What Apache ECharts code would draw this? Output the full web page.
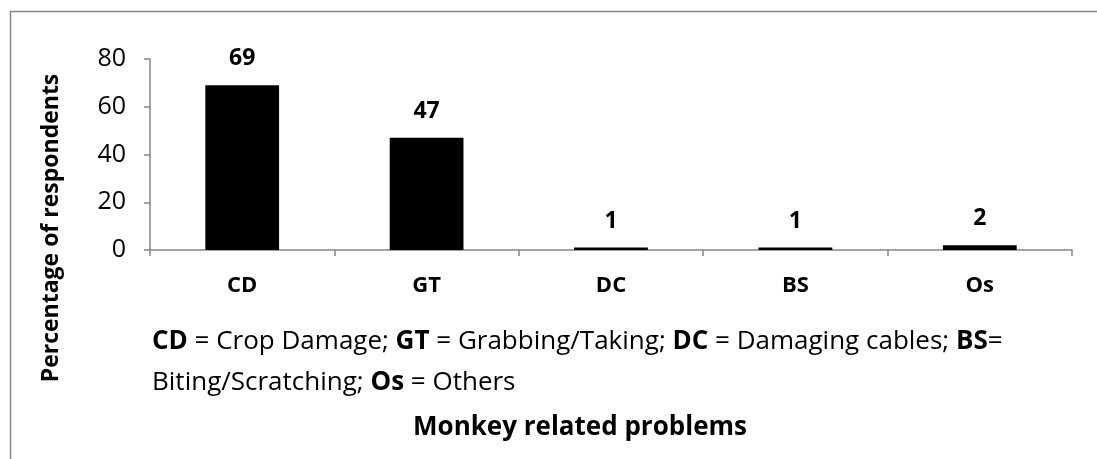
<!DOCTYPE html>
<html>
<head>
<meta charset="utf-8">
<style>
  html, body { margin: 0; padding: 0; background: #fff; }
  #chart { width: 1097px; height: 459px; }
</style>
<script src="https://cdn.jsdelivr.net/npm/echarts@6/dist/echarts.min.js"></script>
</head>
<body>
<div id="chart"></div>
<script>
// Monkey related problems reported by respondents (%)
const categories = ['CD', 'GT', 'DC', 'BS', 'Os'];
const percentages = [69, 47, 1, 1, 2];
const yTicks = [0, 20, 40, 60, 80];

const FONT = 'Open Sans';
const AXIS_GRAY = '#868686';

const chart = echarts.init(document.getElementById('chart'), null, { renderer: 'canvas' });

chart.setOption({
  backgroundColor: '#fff',
  animation: false,
  grid: { left: 150, right: 25, top: 59, bottom: 209 },
  xAxis: {
    type: 'category',
    data: categories,
    axisLine: { lineStyle: { color: AXIS_GRAY, width: 1.5 } },
    axisTick: { show: true, length: 6, alignWithLabel: false, lineStyle: { color: AXIS_GRAY, width: 1.5 } },
    axisLabel: { fontFamily: FONT, fontWeight: 'bold', fontSize: 22, color: '#000', margin: 25 }
  },
  yAxis: {
    type: 'value',
    min: yTicks[0],
    max: yTicks[yTicks.length - 1],
    interval: yTicks[1] - yTicks[0],
    axisLine: { show: true, lineStyle: { color: AXIS_GRAY, width: 1.5 } },
    axisTick: { show: true, length: 6, lineStyle: { color: AXIS_GRAY, width: 1.5 } },
    splitLine: { show: false },
    axisLabel: { fontFamily: FONT, fontSize: 25, color: '#000', margin: 24 }
  },
  series: [{
    type: 'bar',
    data: percentages,
    barWidth: '40%',
    itemStyle: { color: '#000' },
    label: {
      show: true,
      position: 'top',
      distance: 15,
      fontFamily: FONT,
      fontWeight: 'bold',
      fontSize: 23,
      color: '#000'
    }
  }],
  graphic: [
    {
      type: 'rect',
      shape: { x: 10.5, y: 11.5, width: 1100, height: 460 },
      style: { fill: 'none', stroke: AXIS_GRAY, lineWidth: 1.5 },
      silent: true
    },
    {
      type: 'text',
      x: 51, y: 228,
      rotation: Math.PI / 2,
      style: {
        text: 'Percentage of respondents',
        fontFamily: FONT,
        fontWeight: 'bold',
        fontSize: 23,
        fill: '#000',
        align: 'center',
        verticalAlign: 'middle'
      }
    },
    {
      type: 'text',
      x: 152, y: 342,
      style: {
        text: '{b|CD} = Crop Damage; {b|GT} = Grabbing/Taking; {b|DC} = Damaging cables; {b|BS}=',
        fontFamily: FONT,
        fontSize: 26,
        fill: '#000',
        verticalAlign: 'middle',
        rich: { b: { fontWeight: 'bold', fontSize: 26, fontFamily: FONT } }
      }
    },
    {
      type: 'text',
      x: 152, y: 383,
      style: {
        text: 'Biting/Scratching; {b|Os} = Others',
        fontFamily: FONT,
        fontSize: 26,
        fill: '#000',
        verticalAlign: 'middle',
        rich: { b: { fontWeight: 'bold', fontSize: 26, fontFamily: FONT } }
      }
    },
    {
      type: 'text',
      x: 580, y: 428,
      style: {
        text: 'Monkey related problems',
        fontFamily: FONT,
        fontWeight: 'bold',
        fontSize: 26,
        fill: '#000',
        align: 'center',
        verticalAlign: 'middle'
      }
    }
  ]
});
</script>
</body>
</html>
